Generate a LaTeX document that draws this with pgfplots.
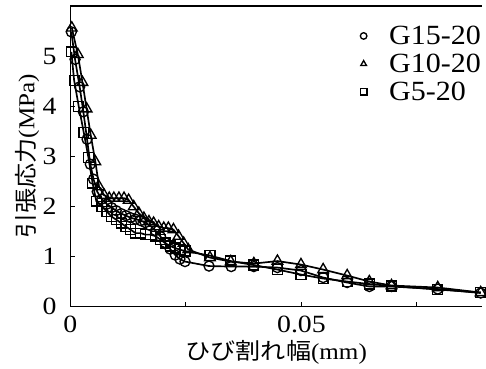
\documentclass[border=0pt]{standalone}
\usepackage{pgfplots}
\pgfplotsset{compat=1.18}
\usepackage{pgfplotstable}
\usepackage{fontspec}
\setmainfont{Liberation Serif}
\newfontfamily\jp{Noto Sans CJK JP}

\pgfplotstableread{
x y
0.0002 5.50
0.0010 4.95
0.0020 4.40
0.0028 3.90
0.0036 3.35
0.0043 2.85
0.0050 2.55
0.0058 2.30
0.0068 2.15
0.0079 2.05
0.0089 1.98
0.0099 1.92
0.0110 1.86
0.0120 1.82
0.0130 1.78
0.0141 1.75
0.0152 1.72
0.0162 1.68
0.0173 1.62
0.0184 1.52
0.0195 1.40
0.0205 1.28
0.0216 1.15
0.0227 1.03
0.0237 0.95
0.0248 0.90
0.0300 0.81
0.0348 0.80
0.0397 0.80
0.0448 0.78
0.0499 0.72
0.0547 0.58
0.0599 0.48
0.0647 0.40
0.0695 0.40
0.0795 0.35
0.0888 0.27
}\gfifteen

\pgfplotstableread{
x y
0.0003 5.58
0.0016 5.05
0.0026 4.49
0.0035 3.96
0.0044 3.43
0.0054 2.90
0.0062 2.40
0.0073 2.23
0.0084 2.17
0.0094 2.17
0.0105 2.17
0.0116 2.17
0.0126 2.13
0.0137 2.00
0.0148 1.87
0.0159 1.77
0.0170 1.70
0.0180 1.67
0.0191 1.60
0.0202 1.57
0.0212 1.57
0.0223 1.54
0.0234 1.41
0.0245 1.27
0.0255 1.14
0.0302 0.98
0.0347 0.90
0.0397 0.86
0.0448 0.91
0.0499 0.84
0.0547 0.74
0.0599 0.62
0.0647 0.50
0.0695 0.42
0.0795 0.38
0.0888 0.28
}\gten

\pgfplotstableread{
x y
0.0002 5.10
0.0008 4.53
0.0018 4.01
0.0029 3.48
0.0039 2.98
0.0048 2.47
0.0056 2.11
0.0068 2.00
0.0079 1.90
0.0089 1.80
0.0099 1.74
0.0110 1.67
0.0120 1.60
0.0130 1.54
0.0141 1.47
0.0152 1.47
0.0162 1.44
0.0173 1.44
0.0184 1.41
0.0195 1.34
0.0205 1.27
0.0216 1.21
0.0227 1.17
0.0237 1.14
0.0248 1.11
0.0302 1.02
0.0347 0.91
0.0397 0.83
0.0448 0.74
0.0499 0.64
0.0547 0.56
0.0599 0.50
0.0647 0.45
0.0695 0.41
0.0795 0.34
0.0888 0.28
}\gfive

\begin{document}
\begin{tikzpicture}
\begin{axis}[
  at={(0,0)}, anchor=south west,
  scale only axis,
  width=415bp, height=303bp,
  xmin=0, xmax=0.0891,
  ymin=0, ymax=6.02,
  axis x line=box, axis y line=left,
  axis line style={-, line width=1.2pt},
  xtick pos=bottom,
  scaled x ticks=false,
  xtick={0,0.05}, xticklabels={0,0.05},
  minor xtick={0.025,0.075},
  ytick={0,1,2,3,4,5},
  tick align=inside,
  major tick length=5bp, minor tick length=5bp,
  tick style={line width=1pt, black},
  /pgf/number format/assume math mode=true,
  tick label style={font=\fontsize{25bp}{27bp}\selectfont, xscale=1.12},
  xticklabel style={yshift=-6bp},
  yticklabel style={xshift=-9bp},
  xlabel={{\jp ひび割れ幅}(mm)},
  ylabel={{\jp 引張応力}(MPa)},
  label style={font=\fontsize{23bp}{25bp}\selectfont},
  xlabel style={at={(axis description cs:0.5,0)}, anchor=north, yshift=-31bp, xscale=1.1},
  ylabel style={at={(axis description cs:0,0.5)}, anchor=south, xshift=0bp, yshift=28bp, xscale=1.1},
  legend cell align=left,
  legend style={draw=none, fill=none, at={(1,1)}, anchor=north east,
    font=\fontsize{28bp}{29bp}\selectfont, xshift=4bp, yshift=-17bp,
    row sep=6bp, nodes={xscale=1.08, inner ysep=1bp}},
  legend image code/.code={\path (0,0) (0.95cm,0);\draw[#1, mark size=3.3pt, line width=0.9pt] plot[only marks] coordinates {(0.15cm,0cm)};},
  every axis plot/.append style={line width=1.7pt, black, mark options={fill=white, solid, line width=1.35pt}},
]
\addplot[mark=o, mark size=5.1pt] table {\gfifteen};
\addlegendentry{G15-20}
\addplot[mark=triangle, mark size=6.2pt] table {\gten};
\addlegendentry{G10-20}
\addplot[mark=square, mark size=5.0pt] table {\gfive};
\addlegendentry{G5-20}
\end{axis}
\useasboundingbox (-71bp,-62bp) rectangle (415bp,309bp);
\end{tikzpicture}
\end{document}
